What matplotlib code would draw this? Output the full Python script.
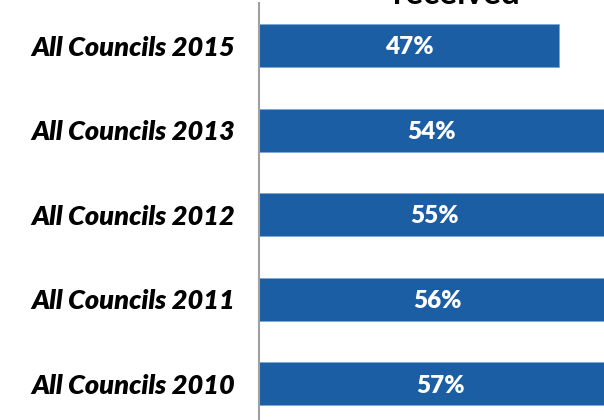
import matplotlib.pyplot as plt

councils = ['All Councils 2015', 'All Councils 2013', 'All Councils 2012',
            'All Councils 2011', 'All Councils 2010']
pct = [47, 54, 55, 56, 57]
title = 'received'

bar_color = '#1B5EA4'

fig = plt.figure(figsize=(6.04, 4.20), dpi=100)
ax = fig.add_axes([258.5 / 604, 1 - 426.2 / 420, 384 / 604, 423 / 420])

y = range(len(councils))
ax.barh(y, pct, height=0.51, color=bar_color, edgecolor='#7fa6d4', linewidth=0.6)
for yi, v in zip(y, pct):
    ax.text(v / 2, yi + 0.02, '{}%'.format(v), ha='center', va='center',
            color='white', fontsize=17.5, fontweight='heavy', family='Lato')

ax.set_xlim(0, 60)
ax.set_ylim(len(councils) - 0.5, -0.5)
ax.set_yticks(list(y))
ax.set_yticklabels(councils, fontsize=19.5, fontweight='heavy', fontstyle='italic',
                   family='Lato')
ax.tick_params(axis='y', length=0, pad=17)
ax.set_xticks([])
for s in ['top', 'right', 'bottom']:
    ax.spines[s].set_visible(False)
ax.spines['left'].set_color('#a0a0a0')
ax.spines['left'].set_linewidth(1.5)

fig.text(0.756, 1 - 4 / 420, title, ha='center', va='baseline',
         fontsize=24, fontweight='bold', family='Lato')

fig.savefig('out.png', dpi=100)
